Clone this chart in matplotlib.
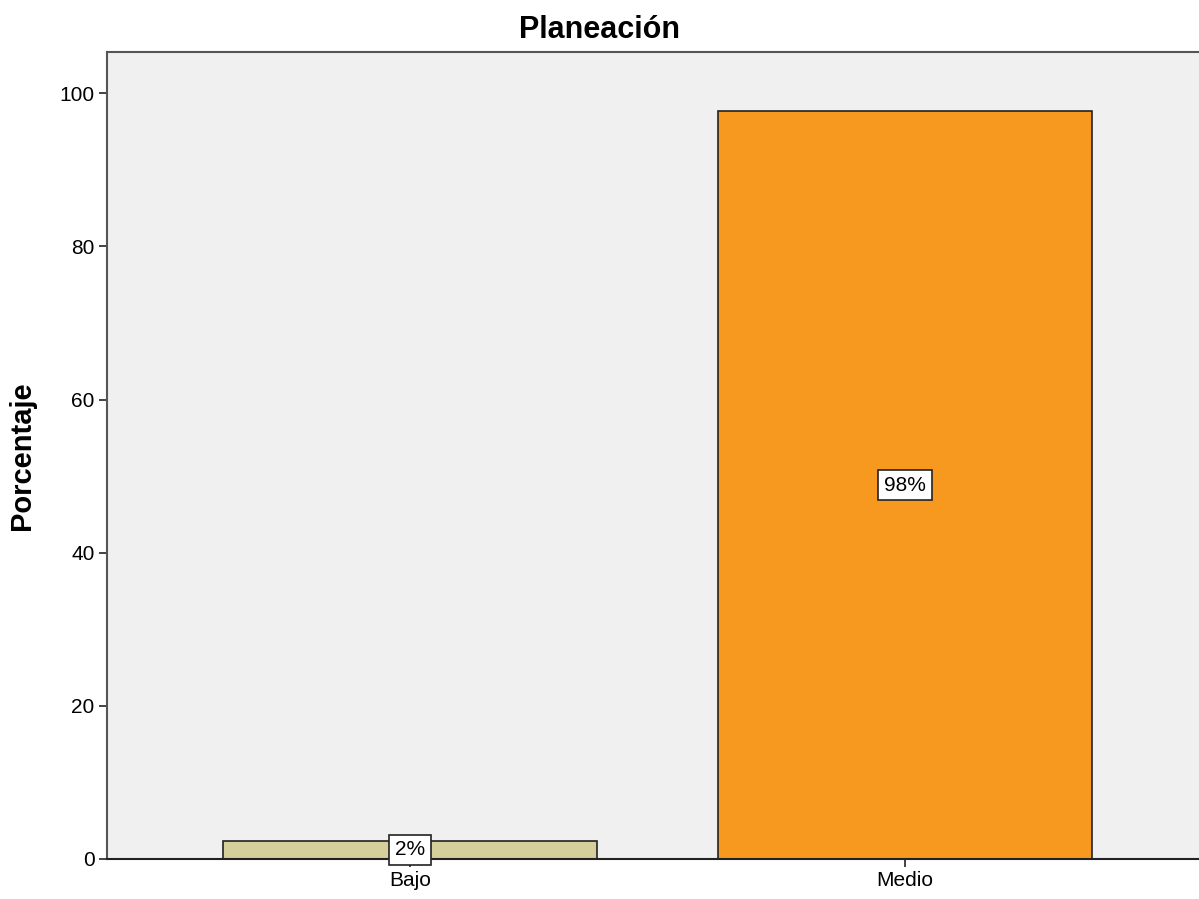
import matplotlib
matplotlib.use('Agg')
import matplotlib.pyplot as plt

plt.rcParams['font.family'] = ['Liberation Sans', 'DejaVu Sans']

categorias = ['Bajo', 'Medio']
porcentajes = [2.35, 97.65]
etiquetas = ['2%', '98%']
colores = ['#D4CF9B', '#F7991F']

fig = plt.figure(figsize=(11.99, 8.99), dpi=100)
ax = fig.add_axes([0.0892, 0.0445, 0.9108, 0.8977])
ax.set_facecolor('#F0F0F0')

x = list(range(len(categorias)))
ax.bar(x, porcentajes, width=0.754, color=colores, edgecolor='#222222', linewidth=1.2, zorder=2)
for xi, v, t in zip(x, porcentajes, etiquetas):
    ax.text(xi, v / 2, t, ha='center', va='center', fontsize=15, zorder=3,
            bbox=dict(boxstyle='square,pad=0.28', facecolor='white', edgecolor='#222222', linewidth=1.2))

ax.set_xlim(-0.612, 1.594)
ax.set_ylim(0, 105.4)
ax.set_xticks(x)
ax.set_xticklabels(categorias)
ax.set_yticks([0, 20, 40, 60, 80, 100])
ax.tick_params(axis='both', labelsize=15, length=6, width=1.2, color='#222222', pad=3)
ax.spines['right'].set_visible(False)
for s in ['left', 'top', 'bottom']:
    ax.spines[s].set_color('#555555')
    ax.spines[s].set_linewidth(1.5)
ax.spines['bottom'].set_color('#222222')

fig.text(22 / 1199, 0.4928, 'Porcentaje', rotation=90, ha='center', va='center',
         fontsize=21, fontweight='bold')
fig.text(0.5, 1 - 30 / 899, 'Planeación', ha='center', va='center',
         fontsize=22, fontweight='bold')

fig.savefig('out.png', dpi=100)
